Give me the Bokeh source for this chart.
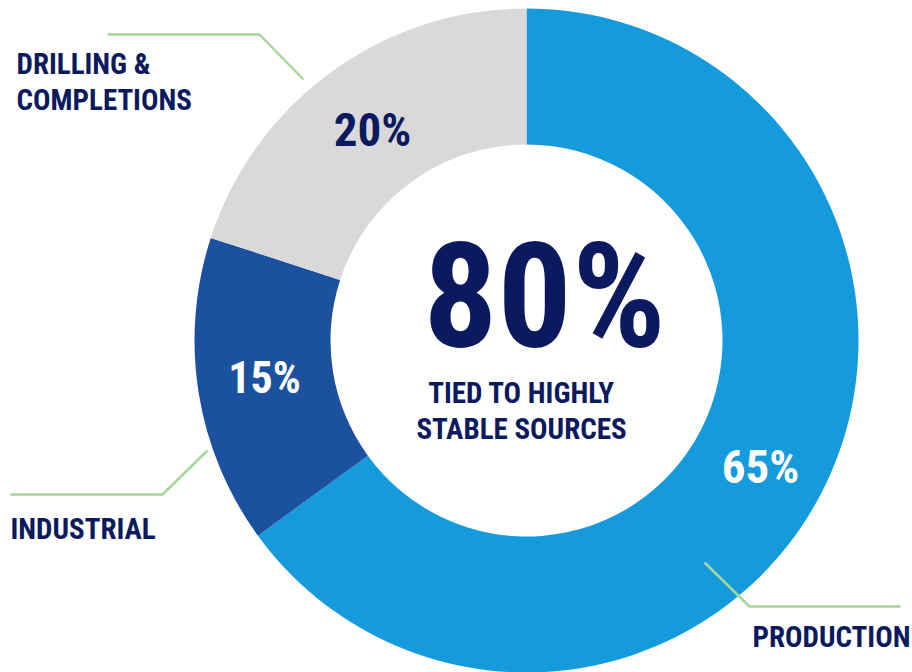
import numpy as np
from bokeh.plotting import figure
from bokeh.models import ColumnDataSource, Range1d
from bokeh.core.properties import value
from bokeh.embed import file_html
from bokeh.resources import INLINE

# ---- data ----
categories = ["PRODUCTION", "INDUSTRIAL", "DRILLING &\nCOMPLETIONS"]
shares = [65, 15, 20]
share_labels = ["65%", "15%", "20%"]
center_value = "80%"
center_caption = ["TIED TO HIGHLY", "STABLE SOURCES"]

# ---- style ----
colors = ["#159ADC", "#1C51A0", "#D9D9D9"]
label_colors = ["#FFFFFF", "#FFFFFF", "#0B1A5E"]
NAVY = "#0B1A5E"
GREEN = "#A8D69A"
FONT = "'Roboto Condensed', 'Liberation Sans Narrow', 'DejaVu Sans Condensed', sans-serif"

W, H = 912, 672
BASE_SHIFT = 0.35  # em, empirical baseline correction

def sx(x):
    return x
def sy(y, size=0):
    return H - y + BASE_SHIFT * size

CX, CY = sx(526), sy(340)
R_OUT, R_IN = 332, 196

p = figure(width=W, height=H, output_backend="svg", toolbar_location=None,
           x_range=Range1d(0, W), y_range=Range1d(0, H), min_border=0)
p.axis.visible = False
p.grid.visible = False
p.outline_line_color = None
p.background_fill_color = "white"

frac = np.array(shares, dtype=float) / sum(shares)
cum = np.concatenate([[0], np.cumsum(frac)])
start = np.pi / 2 - cum[:-1] * 2 * np.pi
end = np.pi / 2 - cum[1:] * 2 * np.pi

src = ColumnDataSource(dict(start=start, end=end, color=colors, cat=categories))
p.annular_wedge(x=CX, y=CY, inner_radius=R_IN, outer_radius=R_OUT,
                start_angle="start", end_angle="end", direction="clock",
                fill_color="color", line_color=None, source=src)

def txt(s, x, y, size, color, align):
    p.text(x=[sx(x)], y=[sy(y, size)], text=[s], text_font=value(FONT),
           text_font_size=f"{size}px", text_font_style="bold", text_color=color,
           text_align=align, text_baseline="alphabetic")

# percentage labels inside the ring
pct_pos = [(760, 482), (264, 393), (372, 145)]
pct_size = [47, 44, 47]
for lab, (x, y), c, fs in zip(share_labels, pct_pos, label_colors, pct_size):
    txt(lab, x, y, fs, c, "center")

# center text
txt(center_value, 544, 348, 147, NAVY, "center")
for line, y in zip(center_caption, [403, 439]):
    txt(line, 521, y, 29, NAVY, "center")

# category labels
cat_pos = [(752, [647]), (10, [539]), (16, [74, 110])]
for cat, (x, ys) in zip(categories, cat_pos):
    for line, y in zip(cat.split("\n"), ys):
        txt(line, x, y, 29, NAVY, "left")

# leader lines
leaders = [
    [(704, 562), (749, 606), (900, 606)],
    [(207, 450), (162, 494), (10, 494)],
    [(303, 79), (259, 34), (107, 34)],
]
for pts in leaders:
    p.line(x=[sx(a) for a, b in pts], y=[sy(b) for a, b in pts],
           line_color=GREEN, line_width=2.5)

open("out.html", "w").write(file_html(p, INLINE))
